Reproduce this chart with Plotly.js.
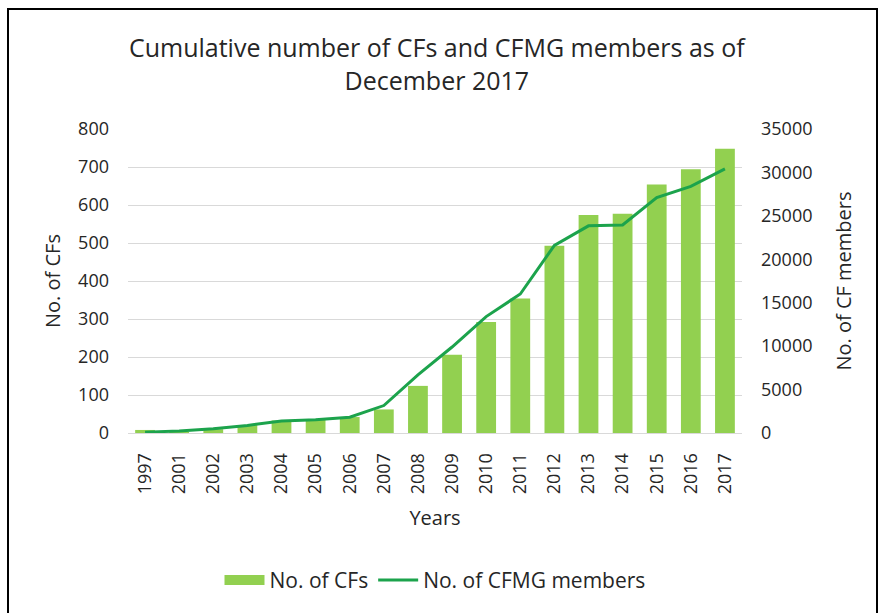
<!DOCTYPE html>
<html>
<head>
<meta charset="utf-8">
<script src="https://cdn.plot.ly/plotly-3.0.1.min.js"></script>
<style>
html,body{margin:0;padding:0;background:#fff;}
#wrap{position:relative;width:886px;height:613px;}
#chart{width:886px;height:613px;}
#frame{position:absolute;left:7px;top:8px;width:871px;height:620px;border:2px solid #000;box-sizing:border-box;pointer-events:none;}
</style>
</head>
<body>
<div id="wrap"><div id="chart"></div><div id="frame"></div></div>
<script>
const years = ["1997","2001","2002","2003","2004","2005","2006","2007","2008","2009","2010","2011","2012","2013","2014","2015","2016","2017"];
const cfCounts = [8, 3, 10, 21, 33, 35, 42, 62, 124, 206, 292, 354, 493, 574, 577, 654, 694, 748];
const cfmgMembers = [100, 230, 490, 870, 1370, 1520, 1820, 3160, 6700, 9900, 13400, 16000, 21600, 23850, 23950, 27100, 28400, 30400];
const leftTicks = [0,100,200,300,400,500,600,700,800];
const rightTicks = [0,5000,10000,15000,20000,25000,30000,35000];

const fontFam = '"Open Sans", "Noto Sans", sans-serif';
const barColor = '#92D050';
const lineColor = '#1CA34C';

const traces = [
  {
    type: 'bar', x: years, y: cfCounts, name: 'No. of CFs',
    marker: {color: barColor}, yaxis: 'y', showlegend: false, legendgroup: 'cf'
  },
  {
    // legend-only entry giving the wide rectangular swatch of the bar series
    type: 'scatter', mode: 'lines', x: [years[0]], y: [null], name: 'No. of CFs',
    line: {color: barColor, width: 18}, yaxis: 'y', legendgroup: 'cf', hoverinfo: 'skip'
  },
  {
    type: 'scatter', mode: 'lines', x: years, y: cfmgMembers, name: 'No. of CFMG members',
    line: {color: lineColor, width: 3}, yaxis: 'y2'
  }
];

const layout = {
  width: 886, height: 613,
  margin: {l: 128, r: 144, t: 129, b: 177},
  paper_bgcolor: '#fff', plot_bgcolor: '#fff',
  font: {family: fontFam, color: '#404040', size: 18},
  title: {
    text: 'Cumulative number of CFs and CFMG members as of<br>December 2017',
    font: {family: fontFam, size: 25, color: '#262626'},
    x: 0.493, xanchor: 'center', y: 0.907, yanchor: 'middle'
  },
  bargap: 0.42,
  showlegend: true,
  legend: {
    orientation: 'h', x: 0.5, xanchor: 'center', y: -0.485, yanchor: 'middle',
    font: {family: fontFam, size: 21, color: '#262626'},
    itemwidth: 40, traceorder: 'normal'
  },
  xaxis: {
    type: 'category', tickangle: -90,
    tickfont: {family: fontFam, size: 18, color: '#262626'},
    showgrid: false, zeroline: false, showline: true, linecolor: '#D9D9D9', linewidth: 1,
    ticks: '', ticklabelstandoff: 12,
    title: {text: 'Years', font: {family: fontFam, size: 20, color: '#262626'}, standoff: 17}
  },
  yaxis: {
    range: [0, 800], tickvals: leftTicks, ticktext: leftTicks.map(String),
    showgrid: true, gridcolor: '#D9D9D9', gridwidth: 1, zeroline: false,
    tickfont: {family: fontFam, size: 18, color: '#262626'}, ticks: '', ticklabelstandoff: 18,
    title: {text: 'No. of CFs', font: {family: fontFam, size: 20, color: '#262626'}, standoff: 12}
  },
  yaxis2: {
    range: [0, 35000], tickvals: rightTicks, ticktext: rightTicks.map(String),
    overlaying: 'y', side: 'right', showgrid: false, zeroline: false,
    tickfont: {family: fontFam, size: 18, color: '#262626'}, ticks: '', ticklabelstandoff: 18,
    title: {text: 'No. of CF members', font: {family: fontFam, size: 20, color: '#262626'}, standoff: 25}
  }
};

Plotly.newPlot('chart', traces, layout, {displayModeBar: false, staticPlot: true});
</script>
</body>
</html>
